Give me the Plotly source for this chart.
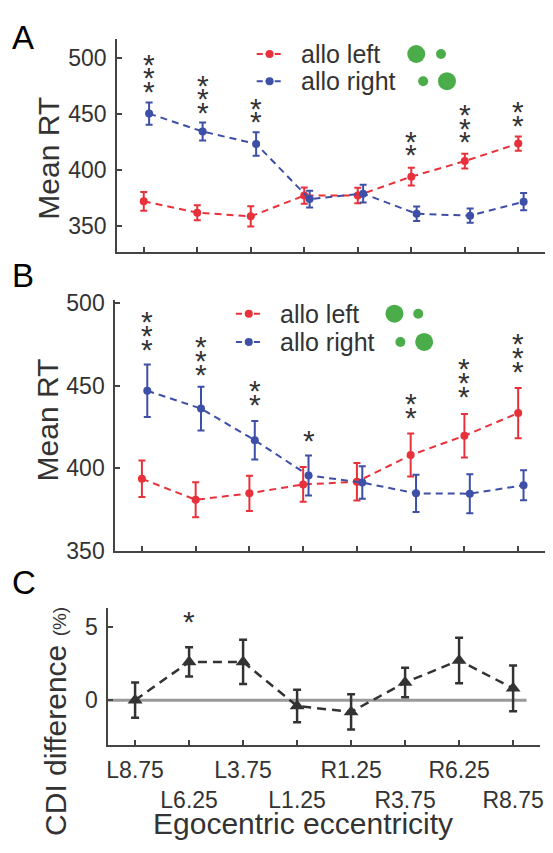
import plotly.graph_objects as go

# screen size, and figure size (page body has an 8px margin)
SW, SH = 553, 853
OFF = 8
W, H = SW - OFF, SH - OFF

# ---------------- data ----------------
positions = list(range(8))
tick_labels = ["L8.75", "L6.25", "L3.75", "L1.25", "R1.25", "R3.75", "R6.25", "R8.75"]

a_left = [372.1, 362.0, 358.7, 377.3, 377.3, 394.2, 408.1, 423.8]
a_left_err = [8.4, 6.7, 9.0, 7.3, 7.0, 8.0, 6.7, 6.4]
a_right = [450.6, 434.6, 423.5, 374.1, 379.0, 361.0, 359.3, 371.8]
a_right_err = [10.0, 8.0, 10.5, 7.4, 8.0, 6.4, 6.4, 7.7]
a_stars = [3, 3, 2, 0, 0, 2, 3, 2]
a_star_y = [475.3, 456.4, 447.7, None, None, 418.6, 430.2, 444.8]

b_left = [393.7, 381.0, 384.9, 390.3, 391.9, 408.0, 419.7, 433.4]
b_left_err = [11.0, 10.6, 10.7, 10.5, 11.3, 13.0, 13.2, 15.2]
b_right = [446.9, 436.1, 417.0, 395.7, 391.4, 384.9, 384.7, 389.8]
b_right_err = [15.8, 13.2, 11.6, 12.1, 9.8, 11.3, 11.8, 9.1]
b_stars = [3, 3, 2, 1, 0, 2, 3, 3]
b_star_y = [474.9, 459.7, 441.6, 419.7, None, 433.8, 446.5, 461.6]

c_diff = [0.0, 2.6, 2.6, -0.4, -0.8, 1.2, 2.7, 0.8]
c_err = [1.2, 1.0, 1.5, 1.1, 1.2, 1.0, 1.55, 1.55]
c_stars = [0, 1, 0, 0, 0, 0, 0, 0]
c_star_y = [None, 5.7, None, None, None, None, None, None]

series_names = ["allo left", "allo right"]

RED = "#e8313a"
BLUE = "#3d4fa6"
GREEN = "#4aad4a"
DARK = "#333333"
AX = "#444444"
FONT = "Liberation Sans, Arial, sans-serif"

def px(x):
    return (x - OFF) / W

def py(y):
    return 1 - (y - OFF) / H

fig = go.Figure()

BLUE_OFF = 0.1
DASH = "7px,5px"

def add_pair(left, lerr, right, rerr, xa, ya):
    fig.add_trace(go.Scatter(
        x=positions, y=left, mode="lines+markers",
        line=dict(color=RED, width=2, dash=DASH),
        marker=dict(color=RED, size=8),
        error_y=dict(type="data", array=lerr, color=RED, thickness=2, width=3.5),
        xaxis=xa, yaxis=ya, showlegend=False, name=series_names[0]))
    fig.add_trace(go.Scatter(
        x=[p + BLUE_OFF for p in positions], y=right, mode="lines+markers",
        line=dict(color=BLUE, width=2, dash=DASH),
        marker=dict(color=BLUE, size=8),
        error_y=dict(type="data", array=rerr, color=BLUE, thickness=2, width=3.5),
        xaxis=xa, yaxis=ya, showlegend=False, name=series_names[1]))

add_pair(a_left, a_left_err, a_right, a_right_err, "x", "y")
add_pair(b_left, b_left_err, b_right, b_right_err, "x2", "y2")

fig.add_trace(go.Scatter(
    x=positions, y=c_diff, mode="lines+markers",
    line=dict(color=DARK, width=2.5, dash="9px,6px"),
    marker=dict(color=DARK, size=13, symbol="triangle-up"),
    error_y=dict(type="data", array=c_err, color=DARK, thickness=2.5, width=4),
    xaxis="x3", yaxis="y3", showlegend=False, name="CDI difference"))

annotations = []
shapes = []

# zero line in C
shapes.append(dict(type="line", xref="x3", yref="y3", x0=-0.5, x1=7.25, y0=0, y1=0,
                   line=dict(color="#999999", width=3), layer="below"))

STAR_SIZE = 30
STAR_SHIFT = -5

# significance stars
def add_stars(counts, ys, xa, ya, spacing):
    for i, n in enumerate(counts):
        for k in range(n):
            xo = BLUE_OFF if i < 4 else 0.0
            annotations.append(dict(
                x=positions[i] + xo, y=ys[i], xref=xa, yref=ya, text="*",
                showarrow=False, yshift=k * spacing + STAR_SHIFT, xanchor="center", yanchor="middle",
                borderpad=0, font=dict(family=FONT, size=STAR_SIZE, color=DARK)))

add_stars(a_stars, a_star_y, "x", "y", 13.3)
add_stars(b_stars, b_star_y, "x2", "y2", 14)
for i, n in enumerate(c_stars):
    if n:
        annotations.append(dict(x=positions[i], y=c_star_y[i], xref="x3", yref="y3", text="*",
                                showarrow=False, yshift=STAR_SHIFT, xanchor="center", yanchor="middle",
                                borderpad=0, font=dict(family=FONT, size=STAR_SIZE, color=DARK)))

# manual legends
def legend(x_line0, x_text, y_rows, greens):
    for (name, col), yr, g in zip([(series_names[0], RED), (series_names[1], BLUE)], y_rows, greens):
        shapes.append(dict(type="line", xref="paper", yref="paper",
                           x0=px(x_line0), x1=px(x_line0 + 26), y0=py(yr), y1=py(yr),
                           line=dict(color=col, width=2, dash="6px,3px")))
        shapes.append(dict(type="circle", xref="paper", yref="paper",
                           xsizemode="pixel", ysizemode="pixel",
                           xanchor=px(x_line0 + 13), yanchor=py(yr),
                           x0=-4, x1=4, y0=-4, y1=4,
                           fillcolor=col, line=dict(color=col, width=0)))
        annotations.append(dict(x=px(x_text), y=py(yr), xref="paper", yref="paper", text=name,
                                showarrow=False, xanchor="left", yanchor="middle", borderpad=0,
                                font=dict(family=FONT, size=25, color=DARK)))
        for gx, r in g:
            shapes.append(dict(type="circle", xref="paper", yref="paper",
                               xsizemode="pixel", ysizemode="pixel",
                               xanchor=px(gx), yanchor=py(yr),
                               x0=-r, x1=r, y0=-r, y1=r,
                               fillcolor=GREEN, line=dict(color=GREEN, width=0)))

legend(257, 301, [45, 73], [[(418, 9), (443, 5)], [(425, 5), (449, 9)]])
legend(236, 279, [312, 341], [[(396, 9), (420, 5)], [(402, 5), (426, 9)]])

# panel letters
annotations.append(dict(x=px(9), y=1, xref="paper", yref="paper", text="A",
                        showarrow=False, xanchor="left", yanchor="top", borderpad=0,
                        font=dict(family=FONT, size=33, color="black")))
for letter, (lx, ly) in zip(["B", "C"], [(9, 273), (9, 588)]):
    annotations.append(dict(x=px(lx), y=py(ly), xref="paper", yref="paper", text=letter,
                            showarrow=False, xanchor="left", yanchor="middle", borderpad=0,
                            font=dict(family=FONT, size=33, color="black")))

# axis titles
for ty in [152, 421]:
    annotations.append(dict(x=px(46), y=py(ty), xref="paper", yref="paper", text="Mean RT",
                            textangle=-90, showarrow=False, xanchor="center", yanchor="middle",
                            font=dict(family=FONT, size=30, color=DARK)))
annotations.append(dict(x=px(54), y=py(731), xref="paper", yref="paper",
                        text="CDI difference <span style='font-size:19px'>(%)</span>",
                        textangle=-90, showarrow=False, xanchor="center", yanchor="middle",
                        font=dict(family=FONT, size=30, color=DARK)))
annotations.append(dict(x=px(304), y=py(836), xref="paper", yref="paper",
                        text="Egocentric eccentricity",
                        showarrow=False, xanchor="center", yanchor="middle", borderpad=0,
                        font=dict(family=FONT, size=30, color=DARK)))

common_x = dict(range=[-0.5, 7.5], tickvals=positions, showline=True, linecolor=AX, linewidth=1.5,
                ticks="inside", ticklen=5, tickcolor=AX, tickwidth=1.5, showgrid=False, zeroline=False)
common_y = dict(showline=True, linecolor=AX, linewidth=1.5, ticks="inside", ticklen=5,
                tickcolor=AX, tickwidth=1.5, showgrid=False, zeroline=False, ticklabelstandoff=4,
                tickfont=dict(family=FONT, size=23, color=DARK))

ticktext_c = [t if i % 2 == 0 else "\u00a0<br>" + t for i, t in enumerate(tick_labels)]

fig.update_layout(
    width=W, height=H, margin=dict(l=0, r=0, t=0, b=0),
    paper_bgcolor="white", plot_bgcolor="white",
    font=dict(family=FONT, color=DARK),
    xaxis=dict(domain=[px(116), px(548)], anchor="y", showticklabels=False, **common_x),
    yaxis=dict(domain=[py(248.3), py(30)], anchor="x", range=[327, 517],
               tickvals=[350, 400, 450, 500], **common_y),
    xaxis2=dict(domain=[px(114), px(548)], anchor="y2", showticklabels=False, **common_x),
    yaxis2=dict(domain=[py(556), py(298.3)], anchor="x2", range=[350, 501.5],
                tickvals=[350, 400, 450, 500], **common_y),
    xaxis3=dict(domain=[px(107), px(543)], anchor="y3", ticktext=ticktext_c, tickangle=0,
                ticklabelstandoff=4,
                tickfont=dict(family=FONT, size=23, color=DARK), **common_x),
    yaxis3=dict(domain=[py(755), py(614)], anchor="x3", range=[-3.03, 6.3],
                tickvals=[0, 5], **common_y),
    annotations=annotations, shapes=shapes,
)

fig.write_html("out.html")
